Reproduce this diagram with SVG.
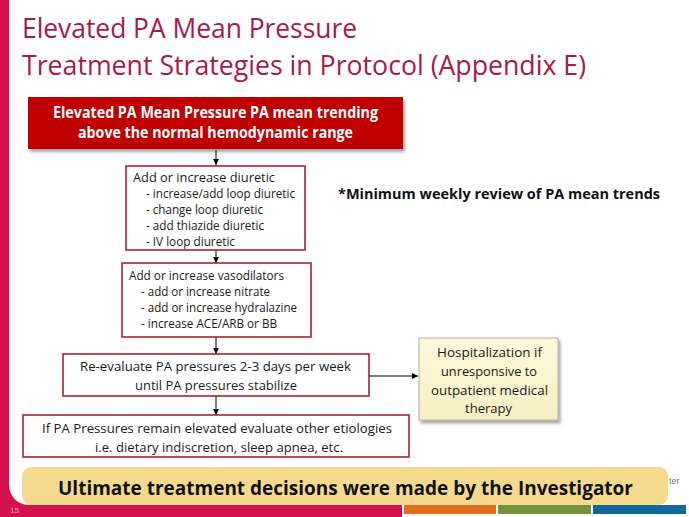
<svg xmlns="http://www.w3.org/2000/svg" width="689" height="517" viewBox="0 0 689 517">
  <defs>
    <style>
      .title { font-family: "Open Sans", "Noto Sans", "Liberation Sans", sans-serif; font-size: 27px; fill: #a8194c; }
      .hdr { font-family: "Open Sans", "Noto Sans", "Liberation Sans", sans-serif; font-size: 15.5px; font-weight: bold; fill: #ffffff; }
      .t { font-family: "Open Sans", "Noto Sans", "Liberation Sans", sans-serif; font-size: 12.5px; fill: #1a1a1a; }
      .t2 { font-family: "Open Sans", "Noto Sans", "Liberation Sans", sans-serif; font-size: 13.5px; fill: #1a1a1a; }
      .box { fill: #ffffff; stroke: #a8242c; stroke-width: 1.6; }
      .conn { stroke: #000000; stroke-width: 1; fill: none; }
      .note { font-family: "Open Sans", "Noto Sans", "Liberation Sans", sans-serif; font-size: 14.5px; font-weight: bold; fill: #111111; }
      .banner { font-family: "Open Sans", "Noto Sans", "Liberation Sans", sans-serif; font-size: 20px; font-weight: bold; fill: #111111; }
    </style>
    <marker id="arr" viewBox="0 0 10 10" refX="10" refY="5" markerWidth="6" markerHeight="6" orient="auto" markerUnits="userSpaceOnUse">
      <path d="M0,0 L10,5 L0,10 Z" fill="#000000"/>
    </marker>
    <filter id="sh" x="-10%" y="-10%" width="130%" height="140%">
      <feDropShadow dx="2" dy="3" stdDeviation="1.5" flood-color="#000000" flood-opacity="0.35"/>
    </filter>
    <linearGradient id="yg" x1="0" y1="0" x2="0" y2="1">
      <stop offset="0" stop-color="#fdf8dc"/>
      <stop offset="1" stop-color="#f7efc3"/>
    </linearGradient>
  </defs>

  <rect x="0" y="0" width="689" height="517" fill="#ffffff"/>

  <!-- frame -->
  <path d="M0,0 H9 V485 A20,20 0 0 0 29,505 H402 V517 H0 Z" fill="#d3124d"/>
  <rect x="404" y="505" width="92" height="9" fill="#e36c1f"/>
  <rect x="498" y="505" width="93" height="9" fill="#76923c"/>
  <rect x="593" y="505" width="93" height="9" fill="#11689b"/>
  <text x="10" y="513" font-family="Liberation Sans, sans-serif" font-size="8px" fill="#f2a7bf">15</text>
  <text x="669" y="484" font-family="Liberation Sans, sans-serif" font-size="9px" fill="#777777">ter</text>

  <!-- title -->
  <text class="title" x="22" y="38" textLength="335" lengthAdjust="spacingAndGlyphs">Elevated PA Mean Pressure</text>
  <text class="title" x="22" y="75" textLength="564" lengthAdjust="spacingAndGlyphs">Treatment Strategies in Protocol (Appendix E)</text>

  <!-- connectors -->
  <g id="connectors">
    <line class="conn" x1="216" y1="150" x2="216" y2="165" marker-end="url(#arr)"/>
    <line class="conn" x1="216" y1="250" x2="216" y2="263" marker-end="url(#arr)"/>
    <line class="conn" x1="216" y1="337" x2="216" y2="354" marker-end="url(#arr)"/>
    <line class="conn" x1="216" y1="396" x2="216" y2="415" marker-end="url(#arr)"/>
    <line class="conn" x1="369" y1="376" x2="418" y2="376" marker-end="url(#arr)"/>
  </g>

  <g id="n-start">
    <rect x="28" y="97" width="375" height="52" fill="#c00000" filter="url(#sh)"/>
    <text class="hdr" x="53" y="118" textLength="325" lengthAdjust="spacingAndGlyphs">Elevated PA Mean Pressure PA mean trending</text>
    <text class="hdr" x="78" y="138" textLength="275" lengthAdjust="spacingAndGlyphs">above the normal hemodynamic range</text>
  </g>

  <g id="n-diuretic">
    <rect class="box" x="126" y="166" width="179" height="84"/>
    <text class="t" x="133" y="182" textLength="142" lengthAdjust="spacingAndGlyphs">Add or increase diuretic</text>
    <text class="t" x="146" y="198" textLength="149" lengthAdjust="spacingAndGlyphs">- increase/add loop diuretic</text>
    <text class="t" x="146" y="214" textLength="117" lengthAdjust="spacingAndGlyphs">- change loop diuretic</text>
    <text class="t" x="146" y="230" textLength="118" lengthAdjust="spacingAndGlyphs">- add thiazide diuretic</text>
    <text class="t" x="146" y="246" textLength="89" lengthAdjust="spacingAndGlyphs">- IV loop diuretic</text>
  </g>

  <g id="n-vaso">
    <rect class="box" x="122" y="263" width="189" height="74"/>
    <text class="t" x="129" y="280" textLength="155" lengthAdjust="spacingAndGlyphs">Add or increase vasodilators</text>
    <text class="t" x="141" y="296" textLength="129" lengthAdjust="spacingAndGlyphs">- add or increase nitrate</text>
    <text class="t" x="141" y="312" textLength="156" lengthAdjust="spacingAndGlyphs">- add or increase hydralazine</text>
    <text class="t" x="141" y="328" textLength="136" lengthAdjust="spacingAndGlyphs">- increase ACE/ARB or BB</text>
  </g>

  <g id="n-reeval">
    <rect class="box" x="63" y="354" width="306" height="42"/>
    <text class="t2" x="80" y="371" textLength="271" lengthAdjust="spacingAndGlyphs">Re-evaluate PA pressures 2-3 days per week</text>
    <text class="t2" x="135" y="390" textLength="162" lengthAdjust="spacingAndGlyphs">until PA pressures stabilize</text>
  </g>

  <g id="n-etiol">
    <rect class="box" x="23" y="415" width="386" height="42"/>
    <text class="t2" x="42" y="433" textLength="350" lengthAdjust="spacingAndGlyphs">If PA Pressures remain elevated evaluate other etiologies</text>
    <text class="t2" x="95" y="452" textLength="248" lengthAdjust="spacingAndGlyphs">i.e. dietary indiscretion, sleep apnea, etc.</text>
  </g>

  <g id="n-hosp">
    <rect x="419" y="338" width="139" height="82" fill="url(#yg)" stroke="#b5b09a" stroke-width="1" filter="url(#sh)"/>
    <text class="t2" x="437" y="357" textLength="105" lengthAdjust="spacingAndGlyphs">Hospitalization if</text>
    <text class="t2" x="441" y="376" textLength="96" lengthAdjust="spacingAndGlyphs">unresponsive to</text>
    <text class="t2" x="431" y="395" textLength="117" lengthAdjust="spacingAndGlyphs">outpatient medical</text>
    <text class="t2" x="465" y="413" textLength="47" lengthAdjust="spacingAndGlyphs">therapy</text>
  </g>

  <text class="note" x="338" y="199" textLength="322" lengthAdjust="spacingAndGlyphs">*Minimum weekly review of PA mean trends</text>

  <!-- banner -->
  <rect x="22" y="467" width="646" height="38" rx="9" ry="9" fill="#f5da8e"/>
  <text class="banner" x="58" y="495" textLength="575" lengthAdjust="spacingAndGlyphs">Ultimate treatment decisions were made by the Investigator</text>
</svg>
